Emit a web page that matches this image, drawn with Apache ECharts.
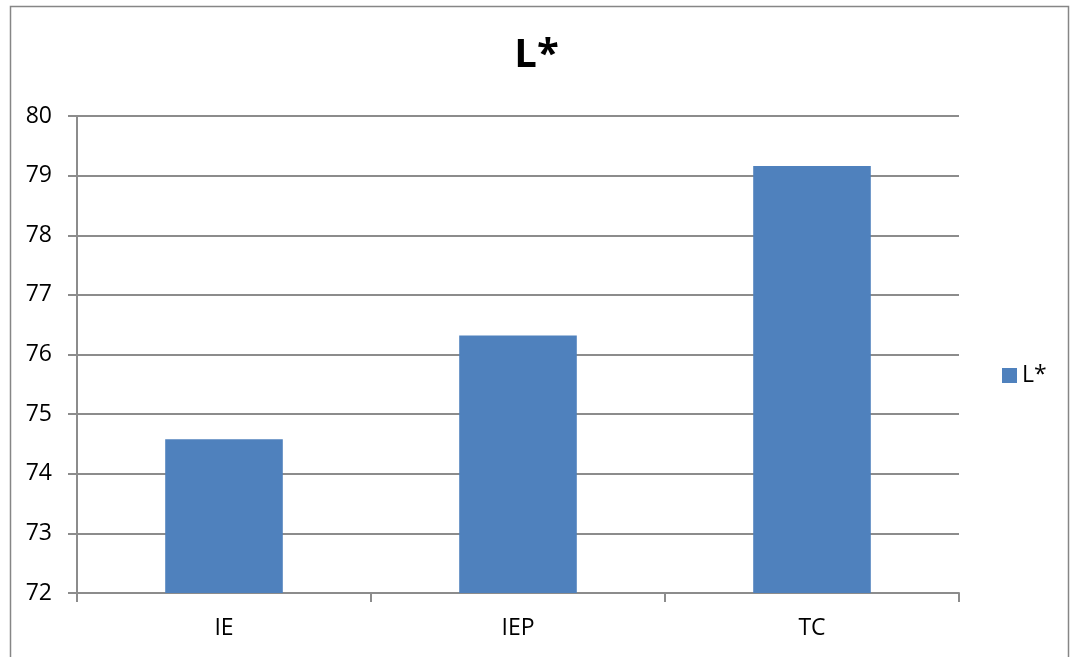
<!DOCTYPE html>
<html>
<head>
<meta charset="utf-8">
<script src="https://cdn.jsdelivr.net/npm/echarts@6/dist/echarts.min.js"></script>
<style>
  html, body { margin: 0; padding: 0; background: #ffffff; }
  #chart { width: 1073px; height: 657px; }
</style>
</head>
<body>
<div id="chart"></div>
<script>
// L* lightness per sample
const categories = ['IE', 'IEP', 'TC'];
const lValues = [74.58, 76.32, 79.16];
const seriesName = 'L*';
const yMin = 72;
const yMax = 80;
const yStep = 1;

const FONT = '"Open Sans", "Noto Sans", sans-serif';
const GRID_GRAY = '#8c8c8c';

const chart = echarts.init(document.getElementById('chart'), null, { renderer: 'canvas' });

chart.setOption({
  backgroundColor: '#ffffff',
  animation: false,
  title: {
    text: seriesName,
    left: 'center',
    top: 31,
    textStyle: { fontFamily: FONT, fontSize: 40, fontWeight: 'bold', color: '#000000' }
  },
  legend: {
    data: [seriesName],
    orient: 'vertical',
    left: 997,
    top: 359,
    itemWidth: 15,
    itemHeight: 15,
    itemGap: 6,
    icon: 'rect',
    textStyle: { fontFamily: FONT, fontSize: 23, color: '#000000', padding: [0, 0, 0, 0] }
  },
  grid: {
    left: 77,
    right: 114,
    top: 116,
    bottom: 64,
    containLabel: false
  },
  xAxis: {
    type: 'category',
    data: categories,
    boundaryGap: true,
    axisLine: { show: true, lineStyle: { color: GRID_GRAY, width: 2 } },
    axisTick: { show: true, inside: false, length: 9, alignWithLabel: false, lineStyle: { color: GRID_GRAY, width: 2 } },
    axisLabel: { margin: 24, fontFamily: FONT, fontSize: 23, color: '#000000' },
    splitLine: { show: false }
  },
  yAxis: {
    type: 'value',
    min: yMin,
    max: yMax,
    interval: yStep,
    axisLine: { show: true, lineStyle: { color: GRID_GRAY, width: 2 } },
    axisTick: { show: true, inside: false, length: 9, lineStyle: { color: GRID_GRAY, width: 2 } },
    axisLabel: { margin: 25, fontFamily: FONT, fontSize: 23, color: '#000000' },
    splitLine: { show: true, lineStyle: { color: GRID_GRAY, width: 2 } }
  },
  series: [{
    name: seriesName,
    type: 'bar',
    data: lValues,
    barWidth: '40%',
    itemStyle: { color: '#4f81bd' }
  }],
  graphic: [{
    type: 'rect',
    left: 8,
    top: 4,
    shape: { width: 1058, height: 680 },
    style: { fill: 'none', stroke: '#868686', lineWidth: 1.5 },
    silent: true
  }]
});
</script>
</body>
</html>
